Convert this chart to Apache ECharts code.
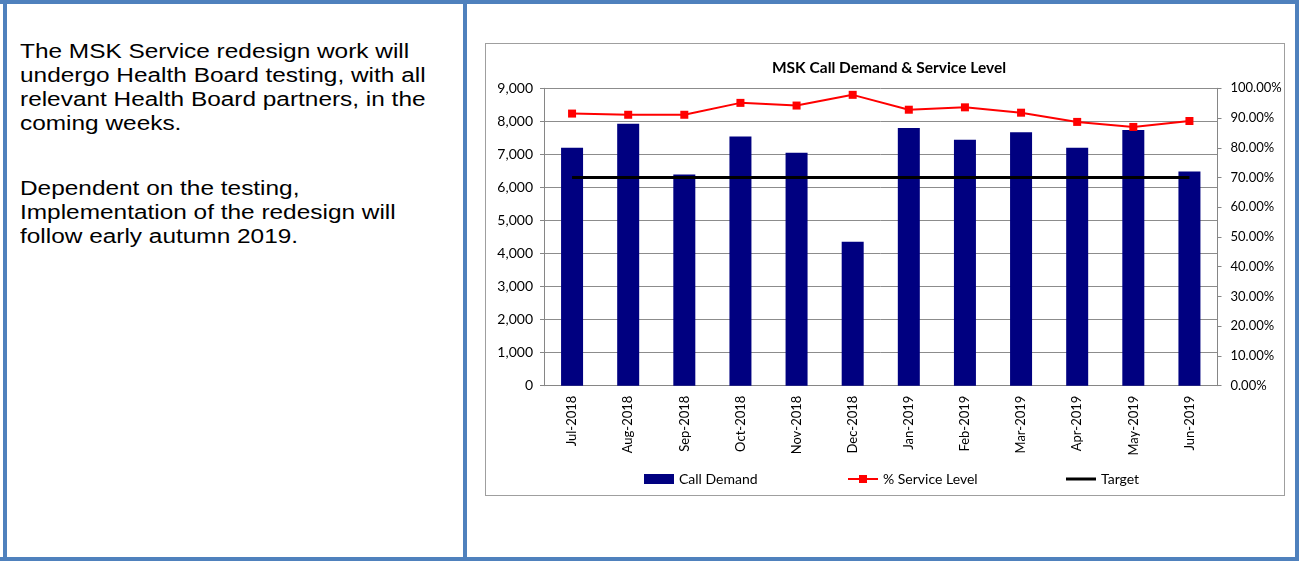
<!DOCTYPE html>
<html>
<head>
<meta charset="utf-8">
<script src="https://cdn.jsdelivr.net/npm/echarts@6/dist/echarts.min.js"></script>
<style>
  html, body { margin: 0; padding: 0; background: #fff; }
  .page { position: relative; width: 1299px; height: 561px; overflow: hidden; }
  .bar { position: absolute; background: #4F81BD; }
  .note {
    position: absolute; left: 20px; top: 39px; width: 360px;
    font-family: "Liberation Sans", Arial, sans-serif; font-size: 20px; line-height: 24px;
    color: #000; transform: scaleX(1.22); transform-origin: left top;
  }
  .note p { margin: 0 0 41px 0; }
  .chartbox { position: absolute; left: 485px; top: 43px; width: 798px; height: 451px; border: 1px solid #9f9f9f; }
  #chart { position: absolute; left: 0; top: 0; width: 1299px; height: 561px; }
</style>
</head>
<body>
<div class="page">
  <div class="bar" style="left:0;top:0;width:1299px;height:4px"></div>
  <div class="bar" style="left:3px;top:0;width:4px;height:561px"></div>
  <div class="bar" style="left:463px;top:0;width:4px;height:561px"></div>
  <div class="bar" style="left:1295px;top:0;width:4px;height:561px"></div>
  <div class="bar" style="left:0;top:557px;width:1299px;height:4px"></div>
  <div class="note">
    <p>The MSK Service redesign work will undergo Health Board testing, with all relevant Health Board partners, in the coming weeks.</p>
    <p>Dependent on the testing, Implementation of the redesign will follow early autumn 2019.</p>
  </div>
  <div class="chartbox"></div>
  <div id="chart"></div>
</div>
<script>
var months = ['Jul-2018', 'Aug-2018', 'Sep-2018', 'Oct-2018', 'Nov-2018', 'Dec-2018',
              'Jan-2019', 'Feb-2019', 'Mar-2019', 'Apr-2019', 'May-2019', 'Jun-2019'];
var callDemand = [7200, 7930, 6390, 7540, 7050, 4360, 7800, 7440, 7670, 7200, 7740, 6480];
var serviceLevel = [91.5, 91.1, 91.1, 95.1, 94.2, 97.8, 92.8, 93.6, 91.8, 88.7, 87.0, 89.0];
var target = [70, 70, 70, 70, 70, 70, 70, 70, 70, 70, 70, 70];

var font = 'Lato, "Open Sans", sans-serif';
var grey = '#868686';

var option = {
    animation: false,
    title: {
        text: 'MSK Call Demand & Service Level',
        left: 884, top: 55, textAlign: 'center',
        textStyle: { fontFamily: font, fontSize: 15.5, fontWeight: 'bold', color: '#000' }
    },
    legend: [
        { left: 644, top: 472, padding: 0, itemWidth: 30, itemHeight: 10,
          data: [{ name: 'Call Demand', icon: 'rect' }],
          textStyle: { fontFamily: font, fontSize: 14, color: '#000' } },
        { left: 847, top: 472, padding: 0, itemWidth: 30, itemHeight: 10,
          data: ['% Service Level'], textStyle: { fontFamily: font, fontSize: 14, color: '#000' } },
        { left: 1066, top: 472, padding: 0, itemWidth: 30, itemHeight: 3,
          data: [{ name: 'Target', icon: 'rect' }],
          textStyle: { fontFamily: font, fontSize: 14, color: '#000' } }
    ],
    grid: { left: 544, right: 81.5, top: 88.3, bottom: 175.3 },
    xAxis: {
        type: 'category',
        data: months,
        axisLine: { lineStyle: { color: grey } },
        axisTick: { length: 5, lineStyle: { color: grey } },
        axisLabel: { rotate: 90, margin: 10, fontFamily: font, fontSize: 13, color: '#000' }
    },
    yAxis: [
        {
            type: 'value', min: 0, max: 9000, interval: 1000,
            axisLine: { show: true, lineStyle: { color: grey } },
            axisTick: { show: true, length: 4, lineStyle: { color: grey } },
            splitLine: { lineStyle: { color: '#8c8c8c' } },
            axisLabel: {
                margin: 11, fontFamily: font, fontSize: 14, color: '#000',
                formatter: function (v) { return v.toLocaleString('en-US'); }
            }
        },
        {
            type: 'value', min: 0, max: 100, interval: 10,
            axisLine: { show: true, lineStyle: { color: grey } },
            axisTick: { show: true, length: 4, lineStyle: { color: grey } },
            splitLine: { show: false },
            axisLabel: {
                margin: 13, fontFamily: font, fontSize: 13, color: '#000',
                formatter: function (v) { return v.toFixed(2) + '%'; }
            }
        }
    ],
    series: [
        {
            name: 'Call Demand', type: 'bar', data: callDemand, barWidth: 22,
            itemStyle: { color: '#000080' }
        },
        {
            name: '% Service Level', type: 'line', yAxisIndex: 1, data: serviceLevel,
            symbol: 'rect', symbolSize: 8,
            lineStyle: { color: '#ff0000', width: 2 },
            itemStyle: { color: '#ff0000' }
        },
        {
            name: 'Target', type: 'line', yAxisIndex: 1, data: target,
            symbol: 'none', lineStyle: { color: '#000', width: 3 },
            itemStyle: { color: '#000' }
        }
    ]
};

var myChart = echarts.init(document.getElementById('chart'));
myChart.setOption(option);
</script>
</body>
</html>
